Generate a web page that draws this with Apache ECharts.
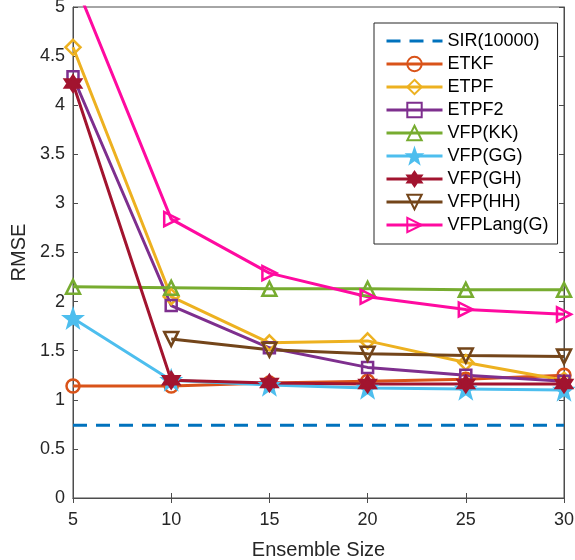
<!DOCTYPE html>
<html>
<head>
<meta charset="utf-8">
<script src="https://cdn.jsdelivr.net/npm/echarts@6/dist/echarts.min.js"></script>
<style>
  html, body { margin: 0; padding: 0; background: #fff; }
  #chart { width: 575px; height: 560px; }
</style>
</head>
<body>
<div id="chart"></div>
<script>
// ensemble sizes on the x axis
var ensembleSizes = [5, 10, 15, 20, 25, 30]

// RMSE values
var sir = [0.74, 0.74]
var etkf = [1.14, 1.14, 1.17, 1.19, 1.21, 1.25]
var etpf = [4.59, 2.05, 1.58, 1.60, 1.38, 1.20]
var etpf2 = [4.29, 1.96, 1.53, 1.33, 1.25, 1.19]
var vfpKK = [2.15, 2.14, 2.13, 2.13, 2.12, 2.12]
var vfpGG = [1.83, 1.20, 1.15, 1.12, 1.11, 1.10]
var vfpGH = [4.22, 1.20, 1.17, 1.16, 1.16, 1.16]
var vfpHH = [null, 1.62, 1.51, 1.47, 1.45, 1.44]
var vfpLang = [5.3, 2.84, 2.29, 2.05, 1.92, 1.87]

var starPath = 'path://M0,-10 L2.35,-3.24 L9.51,-3.09 L3.8,1.24 L5.88,8.09 L0,4 L-5.88,8.09 L-3.8,1.24 L-9.51,-3.09 L-2.35,-3.24 Z'
var hexPath = 'path://M0,-10 L2.9,-5 L8.66,-5 L5.8,0 L8.66,5 L2.9,5 L0,10 L-2.9,5 L-8.66,5 L-5.8,0 L-8.66,-5 L-2.9,-5 Z'

function pairs(values) {
  return values.map(function (v, i) { return [ensembleSizes[i], v] })
}

function lineSeries(name, values, color, symbol, opts) {
  opts = opts || {}
  return {
    name: name,
    type: 'line',
    data: pairs(values),
    symbol: symbol,
    symbolSize: opts.size || 13,
    symbolRotate: opts.rotate || 0,
    showAllSymbol: true,
    connectNulls: false,
    lineStyle: { color: color, width: 3 },
    itemStyle: {
      color: opts.filled ? color : 'rgba(255,255,255,0)',
      borderColor: color,
      borderWidth: 2.5
    },
    emphasis: { disabled: true }
  }
}

var axisColor = '#262626'
var chart = echarts.init(document.getElementById('chart'))

chart.setOption({
  animation: false,
  textStyle: { fontFamily: 'Liberation Sans, Arial, sans-serif' },
  grid: {
    left: 73, right: 11, top: 7, bottom: 62,
    outerBoundsMode: 'none',
    show: true, borderColor: '#4d4d4d', borderWidth: 1
  },
  legend: {
    orient: 'vertical',
    left: 374,
    top: 23,
    itemWidth: 56,
    itemHeight: 18,
    itemGap: 5,
    padding: [9, 9, 10, 11],
    borderColor: axisColor,
    borderWidth: 1,
    backgroundColor: '#fff',
    lineStyle: { width: 3 },
    textStyle: { fontSize: 18, color: '#000' },
    data: [
      { name: 'SIR(10000)', itemStyle: { opacity: 0 } },
      'ETKF', 'ETPF', 'ETPF2', 'VFP(KK)', 'VFP(GG)', 'VFP(GH)', 'VFP(HH)', 'VFPLang(G)'
    ]
  },
  xAxis: [
    {
      type: 'value', min: 5, max: 30, interval: 5,
      name: 'Ensemble Size', nameLocation: 'middle', nameGap: 42,
      nameTextStyle: { fontSize: 20, color: axisColor },
      axisLine: { lineStyle: { color: '#4d4d4d' } },
      axisTick: { inside: true, length: 5, lineStyle: { color: '#4d4d4d' } },
      axisLabel: { fontSize: 18, color: axisColor, margin: 13 },
      splitLine: { show: false }
    },
    {
      type: 'value', min: 5, max: 30, interval: 5, position: 'top',
      axisLine: { lineStyle: { color: '#4d4d4d' } },
      axisTick: { inside: true, length: 5, lineStyle: { color: '#4d4d4d' } },
      axisLabel: { show: false },
      splitLine: { show: false }
    }
  ],
  yAxis: [
    {
      type: 'value', min: 0, max: 5, interval: 0.5,
      name: 'RMSE', nameLocation: 'middle', nameGap: 39,
      nameTextStyle: { fontSize: 20, color: axisColor },
      axisLine: { show: true, lineStyle: { color: '#4d4d4d' } },
      axisTick: { show: true, inside: true, length: 5, lineStyle: { color: '#4d4d4d' } },
      axisLabel: { fontSize: 18, color: axisColor, margin: 8 },
      splitLine: { show: false }
    },
    {
      type: 'value', min: 0, max: 5, interval: 0.5, position: 'right',
      axisLine: { show: true, lineStyle: { color: '#4d4d4d' } },
      axisTick: { show: true, inside: true, length: 5, lineStyle: { color: '#4d4d4d' } },
      axisLabel: { show: false },
      splitLine: { show: false }
    }
  ],
  series: [
    {
      name: 'SIR(10000)',
      type: 'line',
      data: [[5, sir[0]], [30, sir[1]]],
      symbol: 'none',
      lineStyle: { color: '#0072BD', width: 3, type: [14, 9] },
      itemStyle: { color: '#0072BD' },
      emphasis: { disabled: true }
    },
    lineSeries('ETKF', etkf, '#D95319', 'circle'),
    lineSeries('ETPF', etpf, '#EDB120', 'diamond', { size: 15 }),
    lineSeries('ETPF2', etpf2, '#7E2F8E', 'rect', { size: 11 }),
    lineSeries('VFP(KK)', vfpKK, '#77AC30', 'triangle', { size: 14 }),
    lineSeries('VFP(GG)', vfpGG, '#4DBEEE', starPath, { size: 17, filled: true }),
    lineSeries('VFP(GH)', vfpGH, '#A2142F', hexPath, { size: 16, filled: true }),
    lineSeries('VFP(HH)', vfpHH, '#73451A', 'triangle', { size: 14, rotate: 180 }),
    lineSeries('VFPLang(G)', vfpLang, '#FF0AA0', 'triangle', { size: 14, rotate: -90 })
  ]
})
</script>
</body>
</html>
